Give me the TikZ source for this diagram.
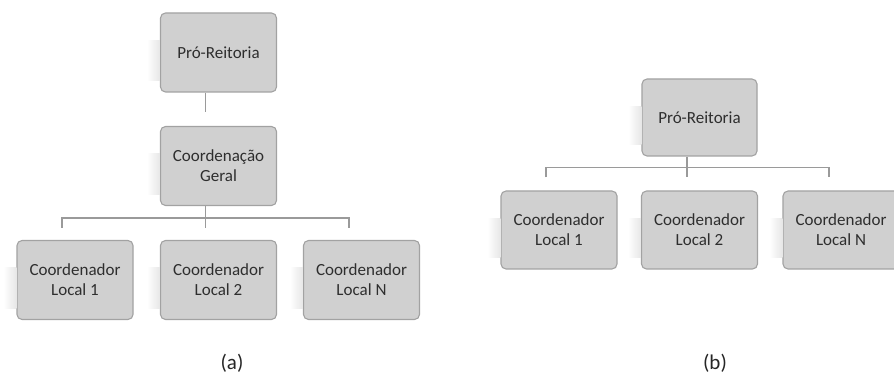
\documentclass[tikz,border=0pt]{standalone}
\usepackage{fontspec}
\setmainfont{Carlito}
\usetikzlibrary{calc}
\definecolor{boxfill}{HTML}{D0D0D0}
\definecolor{boxline}{HTML}{A2A2A2}
\definecolor{boxtext}{HTML}{2E2E2E}
\definecolor{conn}{HTML}{9A9A9A}
\definecolor{shade}{HTML}{E6E6E6}
\tikzset{
  orgbox/.style={draw=boxline, fill=boxfill, line width=1.1pt, rounded corners=5pt,
    minimum width=116pt, minimum height=79pt, align=center, text=boxtext,
    inner sep=2pt, font=\fontsize{17}{20}\selectfont},
  link/.style={draw=conn, line width=1.2pt},
  caption/.style={text=black!85, font=\fontsize{21}{24}\selectfont}
}
\newcommand{\leftshade}[1]{%
  \shade[left color=white, right color=shade]
    ($(#1.north west)+(-13,28)$) rectangle ($(#1.south west)+(0,-12)$);}
\begin{document}
\begin{tikzpicture}[x=1pt,y=-1pt]
\useasboundingbox (0,0) rectangle (894,379);
% left diagram (a)
\node[orgbox] (pr1) at (218.5,52.5) {Pró-Reitoria};
\node[orgbox] (cg) at (218.5,166) {Coordenação\\Geral};
\node[orgbox] (l1) at (75,280) {Coordenador\\Local 1};
\node[orgbox] (l2) at (218.5,280) {Coordenador\\Local 2};
\node[orgbox] (lN) at (361.5,280) {Coordenador\\Local N};
% right diagram (b)
\node[orgbox, minimum width=115pt, minimum height=77pt] (pr2) at (699.5,117.5) {Pró-Reitoria};
\node[orgbox, minimum height=78pt] (b1) at (559,230) {Coordenador\\Local 1};
\node[orgbox, minimum height=78pt] (b2) at (699.5,230) {Coordenador\\Local 2};
\node[orgbox, minimum height=78pt] (bN) at (841,230) {Coordenador\\Local N};
% faint shadows on the left of each box
\leftshade{pr1}\leftshade{cg}\leftshade{l1}\leftshade{l2}\leftshade{lN}
\leftshade{pr2}\leftshade{b1}\leftshade{b2}\leftshade{bN}
% connectors (a)
\coordinate (ja) at ($(cg.south)+(-13,12)$);
\draw[link] ($(pr1.south)+(-13,0)$) -- ($(cg.north)+(-13,-14)$);
\draw[link] ($(cg.south)+(-13,0)$) -- ($(l2.north)+(-13,-12)$);
\draw[link] ($(l1.north)+(-13,-12)$) |- (ja) -| ($(lN.north)+(-12.5,-12)$);
% connectors (b)
\coordinate (jb) at ($(pr2.south)+(-12.5,11)$);
\draw[link] ($(pr2.south)+(-12.5,0)$) -- ($(b2.north)+(-12.5,-13)$);
\draw[link] ($(b1.north)+(-13,-13)$) |- (jb) -| ($(bN.north)+(-12,-13)$);
% captions
\node[caption] (capa) at (232,363) {(a)};
\node[caption] (capb) at (715,363) {(b)};
\end{tikzpicture}
\end{document}
